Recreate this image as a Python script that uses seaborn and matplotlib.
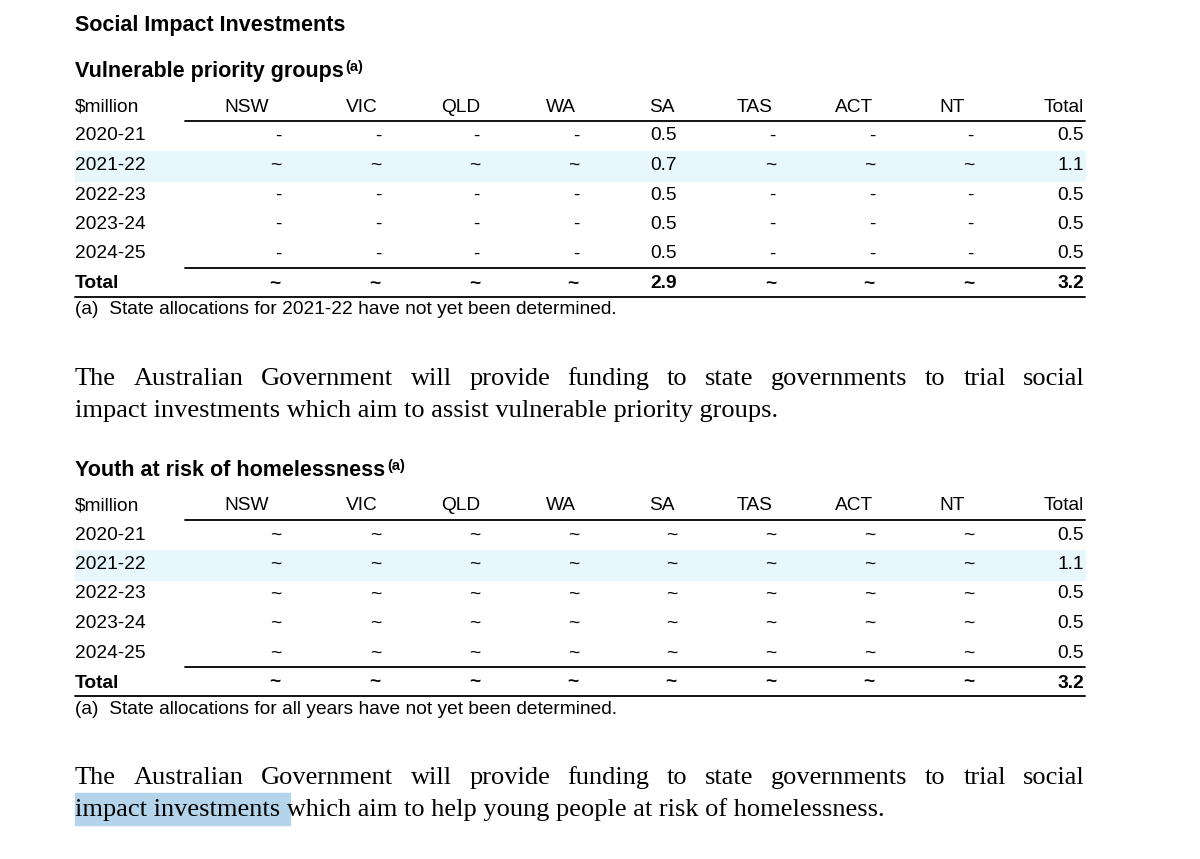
import matplotlib
matplotlib.use("Agg")
import matplotlib.pyplot as plt
import seaborn as sns

sns.set_theme(style="white")
plt.rcParams['font.family'] = ['Liberation Sans', 'DejaVu Sans']
plt.rcParams['text.color'] = 'black'

COLUMNS = ["NSW", "VIC", "QLD", "WA", "SA", "TAS", "ACT", "NT", "Total"]
YEARS = ["2020-21", "2021-22", "2022-23", "2023-24", "2024-25"]

vulnerable_rows = [
    ["-", "-", "-", "-", "0.5", "-", "-", "-", "0.5"],
    ["~", "~", "~", "~", "0.7", "~", "~", "~", "1.1"],
    ["-", "-", "-", "-", "0.5", "-", "-", "-", "0.5"],
    ["-", "-", "-", "-", "0.5", "-", "-", "-", "0.5"],
    ["-", "-", "-", "-", "0.5", "-", "-", "-", "0.5"],
]
vulnerable_total = ["~", "~", "~", "~", "2.9", "~", "~", "~", "3.2"]

youth_rows = [
    ["~"] * 8 + ["0.5"],
    ["~"] * 8 + ["1.1"],
    ["~"] * 8 + ["0.5"],
    ["~"] * 8 + ["0.5"],
    ["~"] * 8 + ["0.5"],
]
youth_total = ["~"] * 8 + ["3.2"]

para1 = ["The Australian Government will provide funding to state governments to trial social",
         "impact investments which aim to assist vulnerable priority groups."]
para2 = ["The Australian Government will provide funding to state governments to trial social",
         "impact investments which aim to help young people at risk of homelessness."]

HEAD_X = [247, 362, 461, 561, 662, 755, 854, 952]
VAL_X = [281, 381, 480, 579, 677, 776, 875, 974, 1084]
LEFT, RIGHT = 75, 1085
FS = 13.8
PFS = 19

fig = plt.figure(figsize=(12, 8.59), dpi=100)
ax = fig.add_axes([0, 0, 1, 1])
ax.set_xlim(0, 1200)
ax.set_ylim(859, 0)
ax.axis("off")
fig.canvas.draw()
R = fig.canvas.get_renderer()
INV = ax.transData.inverted()


def width(t):
    bb = t.get_window_extent(R)
    (a, _), (b, _) = INV.transform([[bb.x0, 0], [bb.x1, 0]])
    return b - a


def table(y0, subtitle, rows, total, note):
    st = ax.text(LEFT, y0, subtitle, fontsize=15.5, fontweight="bold", va="center")
    ax.text(LEFT + width(st) + 2, y0 - 5, "(a)", fontsize=10.5, fontweight="bold", va="center")
    yh = y0 + 35
    ax.text(LEFT, yh, "$million", fontsize=FS, va="center")
    for x, c in zip(HEAD_X, COLUMNS[:-1]):
        ax.text(x, yh, c, fontsize=FS, va="center", ha="center")
    ax.text(VAL_X[-1], yh, "Total", fontsize=FS, va="center", ha="right")
    ax.plot([185, RIGHT], [yh + 14, yh + 14], color="black", lw=1.3)
    for i, (yr, row) in enumerate(zip(YEARS, rows)):
        y = yh + 29 + i * 29.5
        if i == 1:
            ax.axhspan(y - 15, y + 15, xmin=LEFT / 1200, xmax=RIGHT / 1200,
                       color="#e8f7fb", zorder=0)
        ax.text(LEFT, y, yr, fontsize=FS, va="center")
        for x, v in zip(VAL_X, row):
            ax.text(x, y, v, fontsize=FS, va="center", ha="right")
    yl = yh + 161
    ax.plot([185, RIGHT], [yl, yl], color="black", lw=1.3)
    yt = yh + 177
    ax.text(LEFT, yt, "Total", fontsize=FS, va="center", fontweight="bold")
    for x, v in zip(VAL_X, total):
        ax.text(x, yt, v, fontsize=FS, va="center", ha="right", fontweight="bold")
    ax.plot([LEFT, RIGHT], [yt + 13, yt + 13], color="black", lw=1.3)
    ax.text(LEFT, yt + 26, "(a)  " + note, fontsize=FS, va="center")


def paragraph(y0, lines):
    for k, line in enumerate(lines):
        y = y0 + k * 32
        if k < len(lines) - 1:
            words = line.split()
            ts = [ax.text(0, y, w, fontsize=PFS, family="Liberation Serif", va="baseline")
                  for w in words]
            widths = [width(t) for t in ts]
            gap = (RIGHT - LEFT - sum(widths)) / (len(words) - 1)
            x = LEFT
            for t, w in zip(ts, widths):
                t.set_x(x)
                x += w + gap
        else:
            ax.text(LEFT, y, line, fontsize=PFS, family="Liberation Serif", va="baseline")


ax.text(LEFT, 25, "Social Impact Investments", fontsize=15.5, fontweight="bold", va="center")
table(72, "Vulnerable priority groups", vulnerable_rows, vulnerable_total,
      "State allocations for 2021-22 have not yet been determined.")
paragraph(385, para1)
table(471, "Youth at risk of homelessness", youth_rows, youth_total,
      "State allocations for all years have not yet been determined.")
ax.add_patch(plt.Rectangle((LEFT, 793), 215, 32, color="#b3d4ea", zorder=0))
paragraph(784, para2)

fig.savefig("out.png", dpi=100, facecolor="white")
